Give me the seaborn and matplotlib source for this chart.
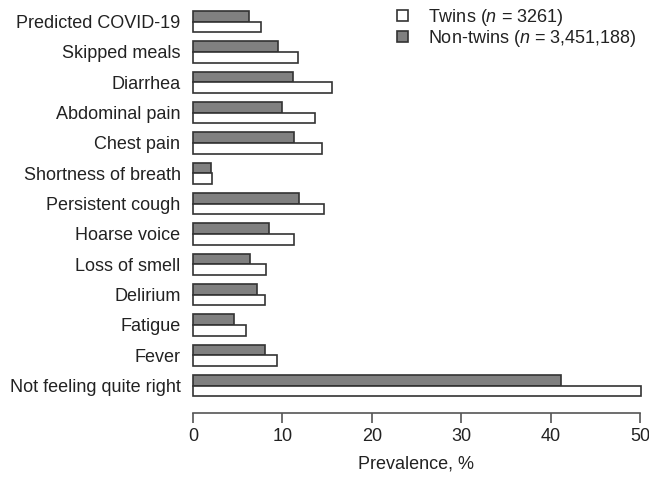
import matplotlib
matplotlib.use("Agg")
import matplotlib.pyplot as plt
from matplotlib.patches import Patch
import seaborn as sns
import pandas as pd

# values (prevalence, %)
symptoms = ["Predicted COVID-19", "Skipped meals", "Diarrhea", "Abdominal pain",
            "Chest pain", "Shortness of breath", "Persistent cough", "Hoarse voice",
            "Loss of smell", "Delirium", "Fatigue", "Fever", "Not feeling quite right"]
twins = [7.6, 11.7, 15.5, 13.7, 14.4, 2.1, 14.7, 11.3, 8.2, 8.0, 5.9, 9.4, 50.1]
non_twins = [6.3, 9.5, 11.2, 10.0, 11.3, 2.0, 11.9, 8.5, 6.4, 7.2, 4.6, 8.0, 41.2]
groups = ["Non-twins", "Twins"]
legend_labels = ["Twins ($\\it{n}$ = 3261)", "Non-twins ($\\it{n}$ = 3,451,188)"]

df = pd.DataFrame({
    "symptom": symptoms * 2,
    "prevalence": non_twins + twins,
    "group": ["Non-twins"] * len(symptoms) + ["Twins"] * len(symptoms),
})

sns.set_style("white")
plt.rcParams["font.family"] = ["Liberation Sans", "DejaVu Sans"]
plt.rcParams["mathtext.fontset"] = "custom"
plt.rcParams["mathtext.rm"] = "Liberation Sans"
plt.rcParams["mathtext.it"] = "Liberation Sans:italic"

fs = 13.0
edge = "#333333"
colors = {"Non-twins": "#808080", "Twins": "white"}

fig = plt.figure(figsize=(6.49, 4.78), dpi=100)
ax = fig.add_axes([193 / 649, 1 - 400.7 / 478, 447 / 649, (400.7 - 6.5) / 478])

sns.barplot(data=df, y="symptom", x="prevalence", hue="group", hue_order=groups,
            order=symptoms, palette=colors, saturation=1, width=0.7, orient="h",
            edgecolor=edge, linewidth=1.2, legend=False, ax=ax)
for p in ax.patches:
    p.set_clip_on(False)  # the 50.1 bar pokes just past the axis end

ax.set_xlim(0, 50)
ax.set_ylim(12.5, -0.5)
ax.set_xticks(range(0, 51, 10))
for s in ["left", "top", "right"]:
    ax.spines[s].set_visible(False)
ax.spines["bottom"].set_position(("outward", 9))
ax.spines["bottom"].set_color("#555555")
ax.spines["bottom"].set_linewidth(1.2)
ax.tick_params(axis="x", length=7, width=1.2, color="#555555", pad=4,
               labelsize=fs, labelcolor="#222222", bottom=True)
ax.tick_params(axis="y", length=0, pad=9, labelsize=fs, labelcolor="#222222")
ax.set_ylabel("")
ax.set_xlabel("Prevalence, %", fontsize=fs, color="#222222", labelpad=7)

handles = [Patch(facecolor="white", edgecolor=edge, linewidth=1.2),
           Patch(facecolor="#808080", edgecolor=edge, linewidth=1.2)]
fig.legend(handles, legend_labels, loc="upper left", bbox_to_anchor=(397 / 649, 1 - 7 / 478),
           frameon=False, fontsize=fs, handlelength=0.6, handleheight=0.6,
           handletextpad=1.1, labelspacing=0.0, borderpad=0, borderaxespad=0,
           labelcolor="#222222")

fig.savefig("out.png", dpi=100)
